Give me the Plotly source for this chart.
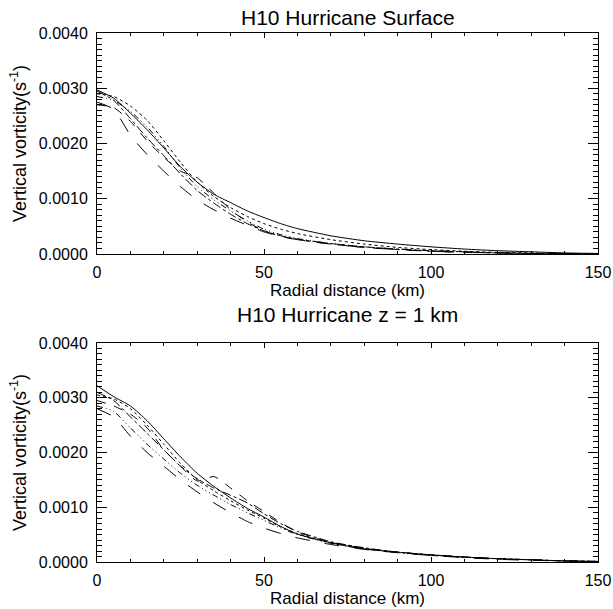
import plotly.graph_objects as go
from plotly.subplots import make_subplots

# Radial distance (km)
radius_km = [0, 5, 10, 15, 20, 25, 30, 35, 40, 45, 50, 55, 60, 70, 80, 90, 100, 110, 120, 130, 140, 150]

# Vertical vorticity, in units of 1e-3 s^-1
SCALE = 1e-3

surf_solid      = [2.97, 2.82, 2.55, 2.25, 1.92, 1.58, 1.30, 1.08, 0.93, 0.78, 0.66, 0.55, 0.46, 0.33, 0.24, 0.18, 0.13, 0.09, 0.06, 0.04, 0.02, 0.01]
surf_dot        = [2.90, 2.85, 2.68, 2.42, 2.05, 1.66, 1.30, 1.04, 0.84, 0.68, 0.55, 0.45, 0.37, 0.26, 0.18, 0.12, 0.08, 0.05, 0.03, 0.02, 0.01, 0.005]
surf_dash       = [2.70, 2.65, 2.40, 2.05, 1.75, 1.50, 1.38, 1.10, 0.80, 0.58, 0.42, 0.32, 0.26, 0.18, 0.12, 0.08, 0.05, 0.03, 0.02, 0.01, 0.005, 0.0]
surf_dashdot    = [2.95, 2.78, 2.45, 2.10, 1.78, 1.45, 1.15, 0.92, 0.72, 0.55, 0.42, 0.33, 0.27, 0.19, 0.13, 0.09, 0.06, 0.04, 0.02, 0.01, 0.005, 0.0]
surf_dashdotdot = [2.85, 2.78, 2.58, 2.30, 1.95, 1.55, 1.22, 0.98, 0.78, 0.60, 0.45, 0.35, 0.28, 0.19, 0.13, 0.09, 0.06, 0.04, 0.02, 0.01, 0.005, 0.0]
surf_longdash   = [2.75, 2.62, 2.15, 1.80, 1.50, 1.22, 0.98, 0.80, 0.65, 0.52, 0.40, 0.32, 0.26, 0.18, 0.12, 0.08, 0.05, 0.03, 0.02, 0.01, 0.005, 0.0]

z1_solid        = [3.22, 3.02, 2.85, 2.58, 2.25, 1.92, 1.62, 1.38, 1.17, 0.98, 0.82, 0.65, 0.51, 0.35, 0.24, 0.18, 0.13, 0.09, 0.06, 0.04, 0.02, 0.01]
z1_dot          = [3.05, 2.98, 2.80, 2.50, 2.15, 1.80, 1.50, 1.30, 1.12, 0.95, 0.80, 0.64, 0.52, 0.36, 0.25, 0.18, 0.13, 0.09, 0.06, 0.04, 0.02, 0.01]
z1_dash         = [2.95, 2.85, 2.70, 2.45, 2.05, 1.75, 1.48, 1.56, 1.35, 1.12, 0.92, 0.72, 0.55, 0.36, 0.25, 0.18, 0.13, 0.09, 0.06, 0.04, 0.02, 0.01]
z1_dashdot      = [3.10, 2.95, 2.65, 2.35, 2.05, 1.75, 1.52, 1.35, 1.22, 1.08, 0.88, 0.70, 0.56, 0.37, 0.26, 0.18, 0.13, 0.09, 0.06, 0.04, 0.02, 0.01]
z1_dashdotdot   = [2.85, 2.75, 2.45, 2.15, 1.88, 1.62, 1.40, 1.22, 1.05, 0.90, 0.76, 0.62, 0.50, 0.34, 0.24, 0.17, 0.12, 0.09, 0.06, 0.04, 0.02, 0.01]
z1_longdash     = [2.80, 2.65, 2.30, 2.00, 1.75, 1.50, 1.28, 1.08, 0.90, 0.74, 0.62, 0.52, 0.44, 0.32, 0.23, 0.17, 0.12, 0.08, 0.05, 0.03, 0.02, 0.01]

panel_titles = ["H10 Hurricane Surface", "H10 Hurricane z = 1 km"]
x_title = "Radial distance (km)"
y_title = "Vertical vorticity(s<sup>-1</sup>)"
x_ticks = [0, 50, 100, 150]
y_ticks = [0.0, 0.001, 0.002, 0.003, 0.004]

styles = ["solid", "dot", "dash", "dashdot", "6px,3px,1px,3px,1px,3px,1px,3px", "longdash"]
panels = [
    [surf_solid, surf_dot, surf_dash, surf_dashdot, surf_dashdotdot, surf_longdash],
    [z1_solid, z1_dot, z1_dash, z1_dashdot, z1_dashdotdot, z1_longdash],
]

FONT = "Liberation Sans, Arial, Helvetica, sans-serif"

fig = make_subplots(rows=2, cols=1, vertical_spacing=0.0)

for row, series in enumerate(panels, start=1):
    for vals, dash in zip(series, styles):
        fig.add_trace(
            go.Scatter(
                x=radius_km,
                y=[v * SCALE for v in vals],
                mode="lines",
                line=dict(color="black", width=1, dash=dash, shape="spline", smoothing=0.6),
                showlegend=False,
                hoverinfo="skip",
            ),
            row=row, col=1,
        )

domains = [[0.5822, 1.0], [0.0, 0.414]]
for i, name in enumerate(["yaxis", "yaxis2"]):
    fig.layout[name].update(
        domain=domains[i],
        range=[0, 0.004],
        tickvals=y_ticks,
        tickformat=".4f",
        ticks="inside",
        ticklen=10,
        tickwidth=1,
        tickcolor="black",
        minor=dict(dtick=0.0001, ticks="inside", ticklen=5, tickcolor="black", tickwidth=1, showgrid=False),
        showline=True,
        linecolor="black",
        linewidth=1,
        mirror="allticks",
        showgrid=False,
        zeroline=False,
        automargin=False,
        ticklabelstandoff=5,
        tickfont=dict(family=FONT, size=16, color="black"),
        title=dict(text=y_title, font=dict(family=FONT, size=18, color="black"), standoff=7),
    )

for i, name in enumerate(["xaxis", "xaxis2"]):
    fig.layout[name].update(
        range=[0, 150],
        tickvals=x_ticks,
        ticks="inside",
        ticklen=5,
        tickwidth=1,
        tickcolor="black",
        minor=dict(dtick=10, ticks="inside", ticklen=3, tickcolor="black", tickwidth=1, showgrid=False),
        showline=True,
        linecolor="black",
        linewidth=1,
        mirror="allticks",
        showgrid=False,
        zeroline=False,
        automargin=False,
        ticklabelstandoff=4,
        tickfont=dict(family=FONT, size=16, color="black"),
        title=dict(text=x_title, font=dict(family=FONT, size=17, color="black"), standoff=3),
    )

title_y = [1.0302, 0.467]
for t, yy in zip(panel_titles, title_y):
    fig.add_annotation(
        text=t, xref="paper", yref="paper", x=0.5, y=yy,
        xanchor="center", yanchor="middle", showarrow=False,
        font=dict(family=FONT, size=21, color="black"),
    )

fig.update_layout(
    width=613,
    height=609,
    margin=dict(l=97, r=15, t=33, b=47),
    paper_bgcolor="white",
    plot_bgcolor="white",
    font=dict(family=FONT, color="black"),
)

fig.write_html(
    "out.html",
    config={"displayModeBar": False, "staticPlot": True},
    post_script="document.body.style.margin='0';document.body.style.padding='0';document.body.style.overflow='hidden';",
)
